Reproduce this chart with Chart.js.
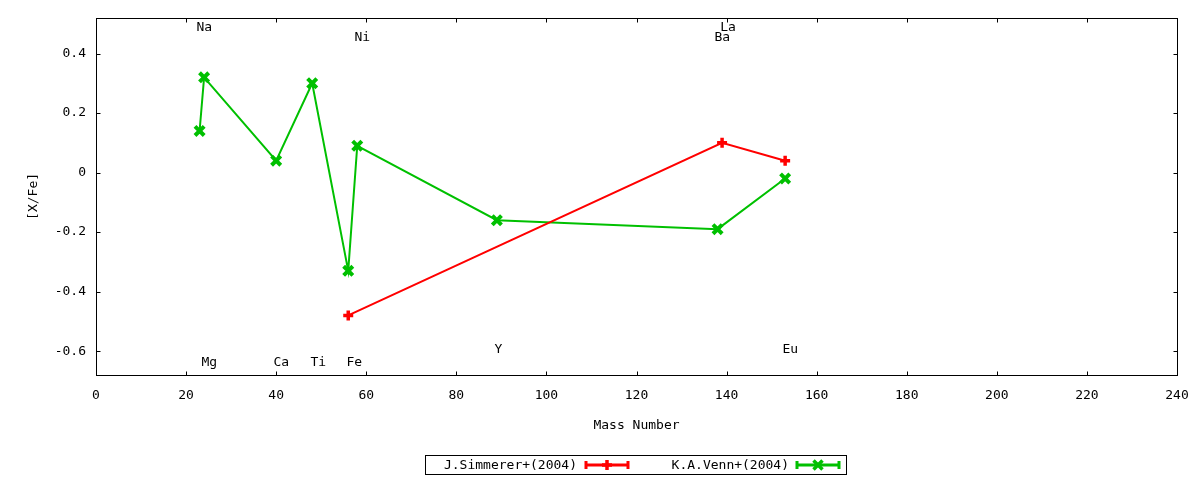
<!DOCTYPE html>
<html>
<head>
<meta charset="utf-8">
<title>[X/Fe] vs Mass Number</title>
<script src="https://cdn.jsdelivr.net/npm/chart.js@4.4.1/dist/chart.umd.min.js"></script>
<style>
    html, body { margin: 0; padding: 0; background: #fff; }
    canvas { display: block; }
</style>
</head>
<body>
<canvas id="abundChart" width="1200" height="480"></canvas>
<script>
// Veriler
const simmererMass = [56, 139, 153];
const simmererXFe = [-0.48, 0.10, 0.04];

const vennMass = [23, 24, 40, 48, 56, 58, 89, 138, 153];
const vennXFe = [0.14, 0.32, 0.04, 0.30, -0.33, 0.09, -0.16, -0.19, -0.02];

// Element etiketleri (veri koordinatlarinda)
const elementNames = ['Na', 'Mg', 'Ca', 'Ti', 'Fe', 'Ni', 'Y', 'Ba', 'La', 'Eu'];
const elementX = [22.3, 23.4, 39.4, 47.6, 55.6, 57.4, 88.5, 137.3, 138.6, 152.4];
const elementY = [0.487, -0.638, -0.638, -0.638, -0.638, 0.452, -0.595, 0.452, 0.487, -0.595];

const xTicks = [0, 20, 40, 60, 80, 100, 120, 140, 160, 180, 200, 220, 240];
const yTicks = [-0.6, -0.4, -0.2, 0, 0.2, 0.4];

const seriesNames = ['J.Simmerer+(2004)', 'K.A.Venn+(2004)'];

const FONT = "'DejaVu Sans Mono', monospace";
const RED = '#ff0000';
const GREEN = '#00c000';

// Cerceve, iceri bakan tikler ve etiketler
const gnuplotFrame = {
    id: 'gnuplotFrame',
    beforeDatasetsDraw(chart) {
        const { ctx, chartArea } = chart;
        const xs = chart.scales.x;
        const ys = chart.scales.y;
        const l = Math.round(chartArea.left) + 0.5;
        const r = Math.round(chartArea.right) + 0.5;
        const t = Math.round(chartArea.top) + 0.5;
        const b = Math.round(chartArea.bottom) + 0.5;
        const tl = 4;

        ctx.save();
        ctx.strokeStyle = '#000';
        ctx.lineWidth = 1;
        ctx.strokeRect(l, t, r - l, b - t);

        ctx.beginPath();
        xTicks.forEach(v => {
            const px = Math.round(xs.getPixelForValue(v)) + 0.5;
            ctx.moveTo(px, b); ctx.lineTo(px, b - tl);
            ctx.moveTo(px, t); ctx.lineTo(px, t + tl);
        });
        yTicks.forEach(v => {
            const py = Math.round(ys.getPixelForValue(v)) + 0.5;
            ctx.moveTo(l, py); ctx.lineTo(l + tl, py);
            ctx.moveTo(r, py); ctx.lineTo(r - tl, py);
        });
        ctx.stroke();

        ctx.fillStyle = '#000';
        ctx.font = '13px ' + FONT;
        ctx.textAlign = 'left';
        ctx.textBaseline = 'middle';
        elementNames.forEach((name, i) => {
            ctx.fillText(name, xs.getPixelForValue(elementX[i]), ys.getPixelForValue(elementY[i]));
        });
        ctx.restore();
    }
};

// Kutulu lejant (gnuplot tarzi)
function drawMarker(ctx, style, x, y) {
    ctx.beginPath();
    if (style === 'cross') {
        ctx.moveTo(x - 5, y); ctx.lineTo(x + 5, y);
        ctx.moveTo(x, y - 5); ctx.lineTo(x, y + 5);
    } else {
        ctx.moveTo(x - 4.5, y - 4.5); ctx.lineTo(x + 4.5, y + 4.5);
        ctx.moveTo(x - 4.5, y + 4.5); ctx.lineTo(x + 4.5, y - 4.5);
    }
    ctx.stroke();
}

const boxLegend = {
    id: 'boxLegend',
    afterDraw(chart) {
        const { ctx } = chart;
        const entries = [
            { text: chart.data.datasets[0].label, color: RED, style: 'cross', textRight: 577, x0: 586, x1: 628 },
            { text: chart.data.datasets[1].label, color: GREEN, style: 'crossRot', textRight: 789, x0: 797, x1: 839 }
        ];
        const cy = 465;

        ctx.save();
        ctx.strokeStyle = '#000';
        ctx.lineWidth = 1;
        ctx.strokeRect(425.5, 455.5, 421, 19);

        ctx.font = '13px ' + FONT;
        ctx.textAlign = 'right';
        ctx.textBaseline = 'middle';
        entries.forEach(e => {
            ctx.fillStyle = '#000';
            ctx.fillText(e.text, e.textRight, cy + 1);

            ctx.strokeStyle = e.color;
            ctx.lineWidth = 3;
            ctx.beginPath();
            ctx.moveTo(e.x0, cy); ctx.lineTo(e.x1, cy);
            ctx.moveTo(e.x0, cy - 4); ctx.lineTo(e.x0, cy + 4);
            ctx.moveTo(e.x1, cy - 4); ctx.lineTo(e.x1, cy + 4);
            ctx.stroke();
            ctx.lineWidth = 3.5;
            drawMarker(ctx, e.style, (e.x0 + e.x1) / 2, cy);
        });
        ctx.restore();
    }
};

const ctx = document.getElementById('abundChart').getContext('2d');
const abundChart = new Chart(ctx, {
    type: 'line',
    data: {
        datasets: [
            {
                label: seriesNames[0],
                data: simmererMass.map((m, i) => ({ x: m, y: simmererXFe[i] })),
                borderColor: RED,
                backgroundColor: RED,
                borderWidth: 2,
                pointStyle: 'cross',
                pointRadius: 5,
                pointBorderWidth: 3.5,
                pointHoverRadius: 5,
                fill: false,
                tension: 0
            },
            {
                label: seriesNames[1],
                data: vennMass.map((m, i) => ({ x: m, y: vennXFe[i] })),
                borderColor: GREEN,
                backgroundColor: GREEN,
                borderWidth: 2,
                pointStyle: 'crossRot',
                pointRadius: 6.5,
                pointBorderWidth: 4,
                pointHoverRadius: 6.5,
                fill: false,
                tension: 0
            }
        ]
    },
    options: {
        responsive: false,
        animation: false,
        devicePixelRatio: 1,
        layout: {
            padding: { left: 0, right: 23, top: 17, bottom: 40 }
        },
        plugins: {
            legend: { display: false },
            tooltip: { enabled: false }
        },
        scales: {
            x: {
                type: 'linear',
                min: 0,
                max: 240,
                afterBuildTicks: scale => { scale.ticks = xTicks.map(v => ({ value: v })); },
                afterFit: scale => {
                    scale.height = 65;
                    scale.paddingLeft = 0;
                    scale.paddingRight = 0;
                },
                grid: { display: false, drawTicks: false },
                border: { display: false },
                ticks: {
                    padding: 13,
                    color: '#000',
                    font: { family: FONT, size: 13 },
                    maxRotation: 0
                },
                title: {
                    display: true,
                    text: 'Mass Number',
                    color: '#000',
                    font: { family: FONT, size: 13 },
                    padding: { top: 0, bottom: 7 }
                }
            },
            y: {
                type: 'linear',
                min: -0.68,
                max: 0.52,
                afterBuildTicks: scale => { scale.ticks = yTicks.map(v => ({ value: v })); },
                afterFit: scale => { scale.width = 96; },
                grid: { display: false, drawTicks: false },
                border: { display: false },
                ticks: {
                    padding: 10,
                    color: '#000',
                    font: { family: FONT, size: 13 }
                },
                title: {
                    display: true,
                    text: '[X/Fe]',
                    color: '#000',
                    font: { family: FONT, size: 13 },
                    padding: { top: 26, bottom: 0 }
                }
            }
        }
    },
    plugins: [gnuplotFrame, boxLegend]
});
</script>
</body>
</html>
